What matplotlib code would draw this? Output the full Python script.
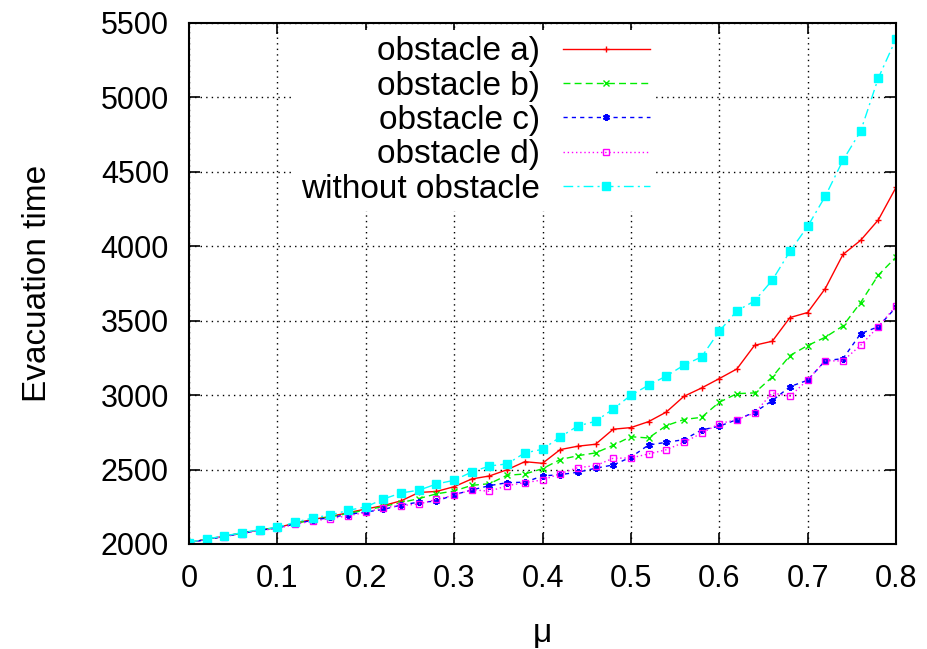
import numpy as np
import matplotlib
matplotlib.use('Agg')
import matplotlib.pyplot as plt

plt.rcParams['font.family'] = ['Liberation Sans', 'DejaVu Sans']

#%% Data

mu = [0.00, 0.02, 0.04, 0.06, 0.08, 0.10, 0.12, 0.14, 0.16, 0.18,
      0.20, 0.22, 0.24, 0.26, 0.28, 0.30, 0.32, 0.34, 0.36, 0.38,
      0.40, 0.42, 0.44, 0.46, 0.48, 0.50, 0.52, 0.54, 0.56, 0.58,
      0.60, 0.62, 0.64, 0.66, 0.68, 0.70, 0.72, 0.74, 0.76, 0.78, 0.80]

obst_a = [2010, 2032, 2052, 2074, 2094, 2110, 2140, 2165, 2185, 2210,
          2235, 2258, 2290, 2346, 2353, 2385, 2437, 2457, 2499, 2553,
          2542, 2634, 2657, 2670, 2771, 2782, 2822, 2886, 2992, 3048,
          3111, 3176, 3335, 3362, 3521, 3555, 3716, 3945, 4040, 4177, 4395]

obst_b = [2010, 2032, 2052, 2074, 2094, 2110, 2138, 2162, 2182, 2205,
          2228, 2252, 2278, 2305, 2337, 2356, 2394, 2405, 2462, 2470,
          2506, 2567, 2593, 2612, 2663, 2721, 2712, 2795, 2836, 2851,
          2952, 3010, 3015, 3122, 3266, 3333, 3389, 3465, 3622, 3806, 3927]

obst_c = [2010, 2030, 2050, 2072, 2092, 2108, 2135, 2160, 2178, 2198,
          2215, 2232, 2262, 2281, 2287, 2331, 2363, 2392, 2412, 2415,
          2457, 2466, 2482, 2509, 2531, 2583, 2665, 2683, 2701, 2766,
          2791, 2836, 2885, 2963, 3057, 3100, 3232, 3245, 3413, 3460, 3590]

obst_d = [2010, 2030, 2050, 2070, 2090, 2105, 2132, 2155, 2170, 2190,
          2212, 2244, 2258, 2268, 2300, 2327, 2365, 2354, 2392, 2412,
          2430, 2472, 2513, 2526, 2576, 2578, 2605, 2633, 2683, 2744,
          2808, 2836, 2880, 3015, 2992, 3102, 3230, 3230, 3335, 3460, 3599]

no_obst = [2010, 2034, 2054, 2076, 2096, 2112, 2146, 2175, 2195, 2226,
           2249, 2302, 2343, 2361, 2403, 2428, 2484, 2524, 2538, 2612,
           2636, 2719, 2793, 2824, 2907, 2999, 3067, 3128, 3201, 3257,
           3429, 3566, 3633, 3772, 3966, 4133, 4336, 4578, 4773, 5130, 5392]

x_ticks = [0, 0.1, 0.2, 0.3, 0.4, 0.5, 0.6, 0.7, 0.8]
x_tick_labels = ['0', '0.1', '0.2', '0.3', '0.4', '0.5', '0.6', '0.7', '0.8']
y_ticks = [2000, 2500, 3000, 3500, 4000, 4500, 5000, 5500]

#%% Plot

fig = plt.figure(figsize=(9.28, 6.49), dpi=100)
ax = fig.add_axes([0.2037, 0.1618, 0.7618, 0.8028])

ax.plot(mu, obst_a, color='#ff0000', ls='-', lw=1.0, marker='+', ms=5, mew=1.0,
        label='obstacle a)')
ax.plot(mu, obst_b, color='#00ee00', ls=(0, (5, 3)), lw=1.0, marker='x', ms=4, mew=1.0,
        label='obstacle b)')
ax.plot(mu, obst_c, color='#0000ff', ls=(0, (3, 3)), lw=1.0, marker=(6, 2, 0), ms=5, mew=1.5,
        label='obstacle c)')
ax.plot(mu, obst_d, color='#ff00ff', ls=(0, (1, 2)), lw=1.0, marker='s', ms=5, mew=1.0,
        mfc='none', label='obstacle d)')
ax.plot(mu, no_obst, color='#00ffff', ls=(0, (7, 3, 1.5, 3)), lw=1.0, marker='s', ms=6,
        label='without obstacle')

ax.set_xlim(0, 0.8)
ax.set_ylim(2000, 5500)
ax.set_xticks(x_ticks)
ax.set_xticklabels(x_tick_labels)
ax.set_yticks(y_ticks)

# gnuplot style grid and ticks
ax.grid(True, color='black', ls=(0, (1, 3)), lw=1.0)
ax.tick_params(direction='in', length=8, width=1.2, top=True, right=True,
               labelsize=22, pad=14.5)
for sp in ax.spines.values():
    sp.set_linewidth(1.5)

ax.set_xlabel('μ', fontsize=24, labelpad=17)
ax.set_ylabel('Evacuation time', fontsize=24, labelpad=34)

leg = ax.legend(loc='upper right', bbox_to_anchor=(0.661, 0.987), fontsize=24,
                markerfirst=False, handlelength=2.6, handletextpad=0.7,
                labelspacing=0.1, borderpad=0.2, borderaxespad=0,
                frameon=True, fancybox=False, framealpha=1.0, edgecolor='none')

plt.savefig('out.png', dpi=100)
